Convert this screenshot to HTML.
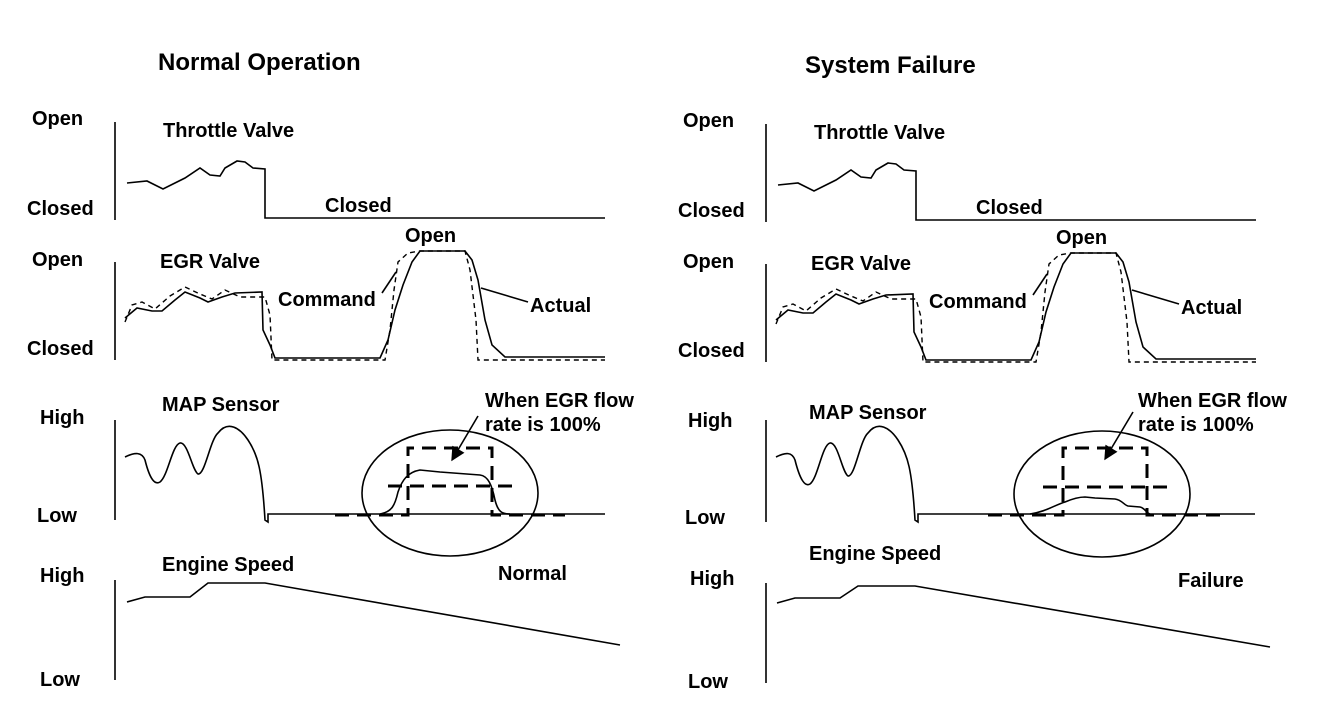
<!DOCTYPE html>
<html><head><style>
html,body{margin:0;padding:0;background:#fff;}
svg{display:block;}
text{font-family:"Liberation Sans",Arial,sans-serif;font-weight:bold;font-size:20px;fill:#000;}
.t{font-size:24px;}
.s{fill:none;stroke:#000;stroke-width:1.6;}
.d{fill:none;stroke:#000;stroke-width:1.4;stroke-dasharray:5,4;}
.D{fill:none;stroke:#000;stroke-width:3;stroke-dasharray:14,8;}
</style></head><body>
<svg width="1344" height="718" viewBox="0 0 1344 718" xmlns="http://www.w3.org/2000/svg">
<defs><marker id="ah" markerWidth="10" markerHeight="10" refX="8" refY="5" orient="auto" markerUnits="userSpaceOnUse"><path d="M0,0 L10,5 L0,10 Z" fill="#000"/></marker>
<marker id="ah2" viewBox="0 0 10 10" markerWidth="16" markerHeight="14" refX="9" refY="5" orient="auto" markerUnits="userSpaceOnUse"><path d="M0,0 L10,5 L0,10 Z" fill="#000"/></marker></defs>

<!-- LEFT -->
<text class="t" x="158" y="70">Normal Operation</text>
<g id="common">
<text x="32" y="125">Open</text>
<text x="27" y="215">Closed</text>
<line class="s" x1="115" y1="122" x2="115" y2="220"/>
<text x="163" y="137">Throttle Valve</text>
<polyline class="s" points="127,183 147,181 163,189 185,178 200,168 210,175 220,176 225,168 237,161 245,162 253,168 265,169 265,218 605,218"/>
<text x="325" y="212">Closed</text>

<text x="32" y="266">Open</text>
<text x="27" y="355">Closed</text>
<line class="s" x1="115" y1="262" x2="115" y2="360"/>
<text x="160" y="268">EGR Valve</text>
<text x="405" y="242">Open</text>
<polyline class="s" points="125,318 137,308 152,311 162,311 175,300 185,292 200,298 208,302 222,297 235,293 262,292 263,330 270,345 275,358 380,358 388,340 395,310 403,285 412,262 420,251 465,251 472,260 478,280 485,320 492,345 505,357 605,357"/>
<polyline class="d" points="125,322 132,305 142,302 155,309 170,296 185,287 200,294 212,299 225,290 240,297 265,297 270,315 272,360 385,360 390,330 394,290 398,262 408,253 420,251 465,251 470,270 476,320 478,360 605,360"/>
<text x="278" y="306">Command</text>
<line class="s" x1="382" y1="293" x2="396" y2="272"/>
<text x="530" y="312">Actual</text>
<line class="s" x1="481" y1="288" x2="528" y2="302"/>
</g>

<text x="40" y="424">High</text>
<text x="37" y="522">Low</text>
<line class="s" x1="115" y1="420" x2="115" y2="520"/>
<text x="162" y="411">MAP Sensor</text>
<path class="s" d="M125,457 C135,452 142,452 145,460 C150,480 155,485 160,482 C168,476 172,445 180,443 C188,442 192,470 198,474 C205,475 210,440 218,433 C228,420 240,428 248,440 C258,455 262,470 265,520 L268,522 L268,514 L605,514"/>
<ellipse class="s" cx="450" cy="493" rx="88" ry="63"/>
<polyline class="D" points="335,515 408,515 408,448 492,448 492,515 565,515"/>
<line class="D" x1="388" y1="486" x2="515" y2="486"/>
<path class="s" d="M380,514 C392,512 395,505 398,492 C402,480 408,472 420,470 L440,472 L480,475 C488,476 492,485 495,500 C498,512 502,514 510,514"/>
<text x="485" y="407">When EGR flow</text>
<text x="485" y="431">rate is 100%</text>
<line x1="478" y1="416" x2="452" y2="460" stroke="#000" stroke-width="1.6" marker-end="url(#ah2)"/>

<text x="40" y="582">High</text>
<text x="40" y="686">Low</text>
<line class="s" x1="115" y1="580" x2="115" y2="680"/>
<text x="162" y="571">Engine Speed</text>
<polyline class="s" points="127,602 145,597 190,597 208,583 265,583 620,645"/>
<text x="498" y="580">Normal</text>

<!-- RIGHT -->
<text class="t" x="805" y="73">System Failure</text>
<use href="#common" transform="translate(651,2)"/>

<text x="688" y="427">High</text>
<text x="685" y="524">Low</text>
<line class="s" x1="766" y1="420" x2="766" y2="522"/>
<text x="809" y="419">MAP Sensor</text>
<path class="s" d="M776,457 C786,452 792,452 795,460 C800,480 805,487 810,484 C818,478 822,445 830,443 C838,442 842,472 848,476 C855,477 860,440 868,433 C878,420 890,428 898,440 C908,455 912,470 915,520 L918,522 L918,514 L1255,514"/>
<ellipse class="s" cx="1102" cy="494" rx="88" ry="63"/>
<polyline class="D" points="988,515 1063,515 1063,448 1147,448 1147,515 1220,515"/>
<line class="D" x1="1043" y1="487" x2="1170" y2="487"/>
<path class="s" d="M1030,514 C1045,512 1055,505 1065,502 C1072,499 1078,497 1085,497 L1095,498 L1115,499 C1122,500 1124,505 1128,506 L1140,507 C1145,508 1146,513 1150,514"/>
<text x="1138" y="407">When EGR flow</text>
<text x="1138" y="431">rate is 100%</text>
<line x1="1133" y1="412" x2="1105" y2="459" stroke="#000" stroke-width="1.6" marker-end="url(#ah2)"/>

<text x="690" y="585">High</text>
<text x="688" y="688">Low</text>
<line class="s" x1="766" y1="583" x2="766" y2="683"/>
<text x="809" y="560">Engine Speed</text>
<polyline class="s" points="777,603 795,598 840,598 858,586 915,586 1270,647"/>
<text x="1178" y="587">Failure</text>
</svg>
</body></html>
